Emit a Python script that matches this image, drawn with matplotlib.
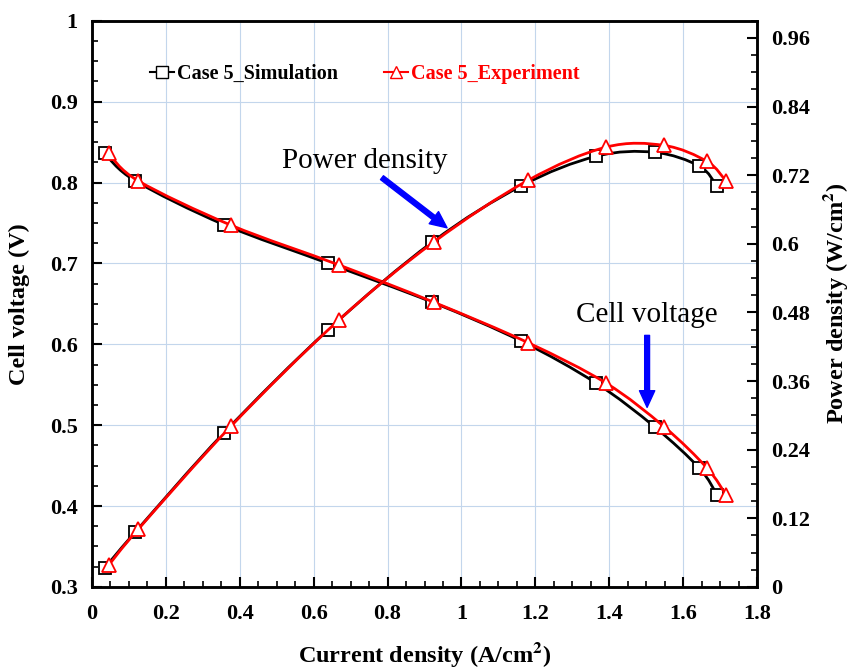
import numpy as np
import matplotlib
matplotlib.use('Agg')
import matplotlib.pyplot as plt
from matplotlib.path import Path
from matplotlib.patches import PathPatch
from matplotlib.lines import Line2D
from matplotlib.ticker import MultipleLocator, FuncFormatter

# data
i_sim = [0.035, 0.118, 0.357, 0.640, 0.921, 1.161, 1.364, 1.522, 1.643, 1.691]
v_sim = [0.836, 0.802, 0.748, 0.700, 0.652, 0.604, 0.552, 0.498, 0.447, 0.414]
p_sim = [0.033, 0.096, 0.269, 0.450, 0.603, 0.701, 0.753, 0.760, 0.736, 0.701]

i_exp = [0.046, 0.126, 0.378, 0.669, 0.925, 1.180, 1.391, 1.548, 1.664, 1.715]
v_exp = [0.836, 0.802, 0.747, 0.698, 0.652, 0.602, 0.552, 0.498, 0.447, 0.414]
p_exp = [0.038, 0.101, 0.282, 0.467, 0.603, 0.711, 0.769, 0.772, 0.744, 0.710]

plt.rcParams['font.family'] = ['Liberation Serif', 'DejaVu Serif']
plt.rcParams['mathtext.fontset'] = 'stix'


def smooth_path(x, y):
    # Excel-style smoothed line drawn as cubic Bezier segments through the points
    x = np.asarray(x, float)
    y = np.asarray(y, float)
    px = np.concatenate([[x[0]], x, [x[-1]]])
    py = np.concatenate([[y[0]], y, [y[-1]]])
    verts = [(x[0], y[0])]
    codes = [Path.MOVETO]
    for k in range(1, len(px) - 2):
        c1 = (px[k] + (px[k + 1] - px[k - 1]) / 6, py[k] + (py[k + 1] - py[k - 1]) / 6)
        c2 = (px[k + 1] - (px[k + 2] - px[k]) / 6, py[k + 1] - (py[k + 2] - py[k]) / 6)
        verts += [c1, c2, (px[k + 1], py[k + 1])]
        codes += [Path.CURVE4] * 3
    return Path(verts, codes)


def draw(ax, x, y, color, marker, z):
    ax.add_patch(PathPatch(smooth_path(x, y), facecolor='none', edgecolor=color,
                           lw=2.0, zorder=z))
    ax.plot(x, y, ls='none', marker=marker, ms=9 if marker == 's' else 10,
            mfc='white', mec=color, mew=1.3, zorder=z + 0.5)


fig = plt.figure(figsize=(8.49, 6.7), dpi=100)
ax = fig.add_axes([0.108, 0.124, 0.784, 0.845])
ax2 = ax.twinx()

draw(ax, i_sim, v_sim, 'black', 's', 3)
draw(ax, i_exp, v_exp, 'red', '^', 4)
draw(ax2, i_sim, p_sim, 'black', 's', 3)
draw(ax2, i_exp, p_exp, 'red', '^', 4)

ax.set_xlim(0, 1.8)
ax.set_ylim(0.3, 1.0)
ax2.set_ylim(0, 0.99)

fmt = FuncFormatter(lambda v, pos: f'{round(v, 3):g}')
ax.xaxis.set_major_locator(MultipleLocator(0.2))
ax.xaxis.set_minor_locator(MultipleLocator(0.05))
ax.yaxis.set_major_locator(MultipleLocator(0.1))
ax.yaxis.set_minor_locator(MultipleLocator(0.025))
ax2.yaxis.set_major_locator(MultipleLocator(0.12))
ax2.yaxis.set_minor_locator(MultipleLocator(0.03))
for a in (ax.xaxis, ax.yaxis, ax2.yaxis):
    a.set_major_formatter(fmt)

for a in (ax, ax2):
    a.tick_params(which='major', direction='in', length=7, width=1.5,
                  labelsize=16, pad=10)
    a.tick_params(which='minor', direction='in', length=4, width=1.2)
    for lab in a.get_xticklabels() + a.get_yticklabels():
        lab.set_fontweight('bold')
    for s in a.spines.values():
        s.set_linewidth(1.8)
ax.tick_params(axis='y', right=False)
ax.tick_params(axis='y', which='minor', right=False)
ax.tick_params(axis='x', which='major', pad=12)

ax.grid(True, which='major', color='#c3d6ec', lw=0.8)
ax.set_axisbelow(True)

ax.set_xlabel('Current density (A/cm$^{\\mathbf{2}}$)', fontsize=17.5, fontweight='bold',
              labelpad=12)
ax.set_ylabel('Cell voltage (V)', fontsize=17.5, fontweight='bold', labelpad=14)
ax2.set_ylabel('Power density (W/cm$^{\\mathbf{2}}$)', fontsize=17.5, fontweight='bold',
               labelpad=8)

handles = [Line2D([], [], color='black', lw=1.5, marker='s', ms=8, mfc='white', mec='black'),
           Line2D([], [], color='red', lw=1.5, marker='^', ms=8, mfc='white', mec='red')]
leg = ax.legend(handles, ['Case 5_Simulation', 'Case 5_Experiment'], loc='upper left',
                bbox_to_anchor=(0.06, 0.955), ncol=2, frameon=False, handlelength=1.2,
                handletextpad=0.15, columnspacing=2.3,
                prop={'family': 'Liberation Serif', 'weight': 'bold', 'size': 14.5})
for txt, c in zip(leg.get_texts(), ['black', 'red']):
    txt.set_color(c)

arrow = dict(facecolor='blue', edgecolor='blue', width=3.5, headwidth=11, headlength=12)
ax.annotate('', xy=(0.961, 0.744), xytext=(0.785, 0.806), arrowprops=arrow, zorder=6)
ax.text(0.739, 0.827, 'Power density', fontsize=21, ha='center', va='center')
ax.annotate('', xy=(1.502, 0.522), xytext=(1.502, 0.611), arrowprops=arrow, zorder=6)
ax.text(1.502, 0.636, 'Cell voltage', fontsize=21, ha='center', va='center')

fig.savefig('out.png', dpi=100)
